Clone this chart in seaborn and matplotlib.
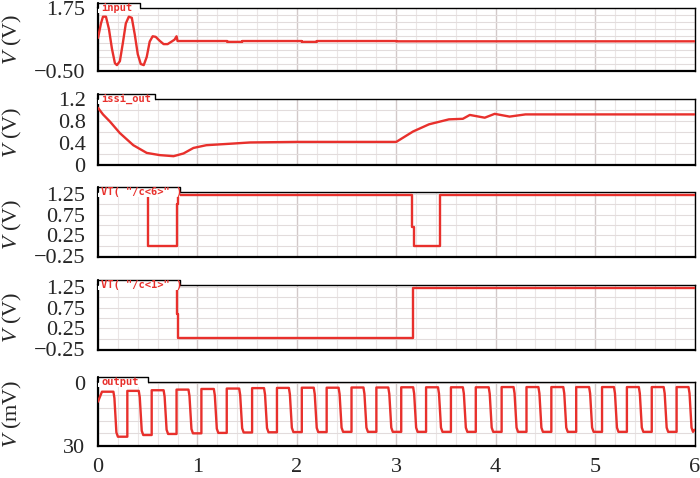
import numpy as np
import pandas as pd
import matplotlib
matplotlib.use("Agg")
import matplotlib.pyplot as plt
import seaborn as sns
from matplotlib.patches import Rectangle
from matplotlib.lines import Line2D

sns.set_style("white")
plt.rcParams['font.family'] = ['Liberation Serif', 'DejaVu Serif']
plt.rcParams['mathtext.fontset'] = 'custom'
plt.rcParams['mathtext.it'] = 'Liberation Serif:italic'
plt.rcParams['mathtext.rm'] = 'Liberation Serif'

RED = '#e8302c'

# ---- data ----
input_t = [0.0, 0.03, 0.05, 0.08, 0.11, 0.14, 0.17, 0.19, 0.22, 0.25, 0.28, 0.31, 0.34,
           0.37, 0.40, 0.43, 0.46, 0.49, 0.52, 0.55, 0.58, 0.62, 0.66, 0.70, 0.74, 0.77,
           0.79, 0.80, 1.30, 1.30, 1.45, 1.45, 2.05, 2.05, 2.20, 2.20, 3.00, 3.00, 6.0]
input_v = [0.68, 1.20, 1.44, 1.44, 1.00, 0.30, -0.22, -0.29, -0.15, 0.50, 1.20, 1.44, 1.40,
           0.80, 0.10, -0.25, -0.29, 0.00, 0.55, 0.74, 0.72, 0.58, 0.46, 0.46, 0.55, 0.62,
           0.74, 0.57, 0.57, 0.54, 0.54, 0.57, 0.57, 0.54, 0.54, 0.57, 0.57, 0.56, 0.56]

issi_t = [0.0, 0.05, 0.12, 0.22, 0.355, 0.49, 0.62, 0.76, 0.86, 0.96, 1.09, 1.36, 1.53, 2.0,
          2.5, 3.0, 3.17, 3.33, 3.53, 3.67, 3.74, 3.89, 3.99, 4.14, 4.3, 5.0, 6.0]
issi_v = [1.04, 0.92, 0.79, 0.58, 0.36, 0.22, 0.18, 0.16, 0.21, 0.31, 0.36, 0.39, 0.41, 0.42,
          0.42, 0.42, 0.61, 0.74, 0.83, 0.84, 0.91, 0.86, 0.93, 0.88, 0.92, 0.92, 0.92]

c6_t = [0.0, 0.50, 0.50, 0.79, 0.79, 0.80, 0.80, 3.16, 3.16, 3.18, 3.18, 3.44, 3.44, 6.0]
c6_v = [1.23, 1.23, 0.0, 0.0, 1.0, 1.0, 1.23, 1.23, 0.46, 0.46, 0.0, 0.0, 1.23, 1.23]

c1_t = [0.0, 0.79, 0.79, 0.80, 0.80, 3.17, 3.17, 6.0]
c1_v = [1.23, 1.23, 0.60, 0.60, 0.02, 0.02, 1.23, 1.23]

out_fall = [0.155, 0.41, 0.66, 0.91, 1.165, 1.42, 1.67, 1.92, 2.17, 2.42, 2.67, 2.92,
            3.17, 3.42, 3.67, 3.93, 4.18, 4.43, 4.68, 4.94, 5.19, 5.44, 5.69, 5.94]
out_rise = [0.295, 0.54, 0.79, 1.04, 1.295, 1.55, 1.80, 2.05, 2.30, 2.55, 2.80, 3.05,
            3.30, 3.55, 3.80, 4.06, 4.31, 4.56, 4.81, 5.07, 5.32, 5.57, 5.82]
out_top = [4.3, 3.9, 3.6, 3.3, 3.0, 2.8, 2.6, 2.5, 2.4, 2.4, 2.3, 2.3,
           2.2, 2.2, 2.2, 2.2, 2.1, 2.1, 2.1, 2.1, 2.1, 2.1, 2.1, 2.1]
out_bot = [25.6, 24.8, 24.3, 24.0, 23.8, 23.6, 23.5, 23.4, 23.4, 23.3, 23.3, 23.3,
           23.3, 23.3, 23.3, 23.3, 23.3, 23.3, 23.3, 23.3, 23.3, 23.3, 23.3, 23.3]

# assemble output polyline from the edges
out_t = [0.0, 0.04]
out_v = [9.0, out_top[0]]
for i, f in enumerate(out_fall):
    out_t += [f, f + 0.01, f + 0.03, f + 0.045]
    out_v += [out_top[i], out_top[i] + 3, out_bot[i] - 2.0, out_bot[i]]
    if i < len(out_rise):
        out_t += [out_rise[i], out_rise[i]]
        out_v += [out_bot[i], out_top[i + 1]]
out_t += [6.0]
out_v += [out_bot[-1] - 1.0]

W, H = 700, 478
fig = plt.figure(figsize=(7, 4.78), dpi=100)

L, R = 98, 694.5
panels = [
    # top_px, bottom_px, ylim, ticks, labels, ylabel, tab_right, name, t, v
    (8, 71, (-0.5, 1.75), np.arange(-0.5, 1.76, 0.25),
     {-0.5: '\u22120.50', 1.75: '1.75'}, '$V$ (V)', 140, 'input', input_t, input_v),
    (99, 165, (0, 1.2), np.arange(0, 1.21, 0.2),
     {0: '0', 0.4: '0.4', 0.8: '0.8', 1.2: '1.2'}, '$V$ (V)', 155, 'issi_out', issi_t, issi_v),
    (192.5, 257, (-0.274, 1.286), np.arange(-0.25, 1.26, 0.25),
     {-0.25: '\u22120.25', 0.25: '0.25', 0.75: '0.75', 1.25: '1.25'}, '$V$ (V)', 180,
     'VT( "/c<6>" )', c6_t, c6_v),
    (285, 350, (-0.274, 1.30), np.arange(-0.25, 1.26, 0.25),
     {-0.25: '\u22120.25', 0.25: '0.25', 0.75: '0.75', 1.25: '1.25'}, '$V$ (V)', 180,
     'VT( "/c<1>" )', c1_t, c1_v),
    (382, 446, (30, -0.3), np.arange(0, 31, 6),
     {0: '0', 30: '30'}, '$V$ (mV)', 148, 'output', out_t, out_v),
]

for k, (top, bot, ylim, yt, ylab, ylabel, tabr, name, t, v) in enumerate(panels):
    ax = fig.add_axes([L / W, 1 - bot / H, (R - L) / W, (bot - top) / H])
    df = pd.DataFrame({'t': t, 'v': v})
    sns.lineplot(data=df, x='t', y='v', ax=ax, color=RED, lw=1.7,
                 estimator=None, sort=False, zorder=3)
    ax.set_xlim(0, 6)
    ax.set_ylim(*ylim)
    ax.set_xticks(np.arange(0, 6.01, 1))
    ax.set_xticks(np.arange(0, 6.01, 0.2), minor=True)
    ax.set_yticks(yt)
    ax.set_yticklabels([ylab.get(round(y, 2), '') for y in yt])
    ax.grid(True, which='major', axis='x', color='#d2c9c9', lw=1.0, zorder=0)
    ax.grid(True, which='minor', axis='x', color='#ebe6e6', lw=0.8, zorder=0)
    ax.grid(True, which='major', axis='y', color='#e2dcdc', lw=0.8, zorder=0)
    for s in ax.spines.values():
        s.set_color('black')
        s.set_linewidth(1.0)
    ax.spines['left'].set_linewidth(1.6)
    ax.spines['bottom'].set_linewidth(1.6)
    ax.tick_params(axis='y', which='major', direction='out', length=7, width=1,
                   labelsize=16, pad=2)
    if k == 4:
        ax.tick_params(axis='x', which='major', direction='out', length=7, width=1.2,
                       labelsize=16, pad=2)
        ax.tick_params(axis='x', which='minor', direction='out', length=4, width=1)
    else:
        ax.tick_params(axis='x', which='both', length=0, labelbottom=False)
    ax.set_xlabel('')
    ax.set_ylabel(ylabel, fontsize=16)
    ax.yaxis.set_label_coords(-0.124, 0.5)

    # label tab on top-left
    tab_top = top - 5.5
    tab_bot = top + 4.5
    fig.patches.append(Rectangle((L / W, 1 - tab_bot / H), (tabr - L) / W,
                                 (tab_bot - tab_top) / H, transform=fig.transFigure,
                                 facecolor='white', edgecolor='none', zorder=5))
    fig.lines.append(Line2D([L / W, tabr / W, tabr / W],
                            [1 - tab_top / H, 1 - tab_top / H, 1 - top / H],
                            transform=fig.transFigure, color='black', lw=1.0, zorder=6))
    fig.lines.append(Line2D([L / W, L / W], [1 - tab_top / H, 1 - top / H],
                            transform=fig.transFigure, color='black', lw=1.6, zorder=6))
    fig.text((L + 3) / W, 1 - (tab_top + 5.2) / H, name, color=RED, fontsize=7.5,
             family='DejaVu Sans Mono', fontweight='bold', va='center', ha='left', zorder=7)

fig.savefig('out.png', dpi=100, facecolor='white')
